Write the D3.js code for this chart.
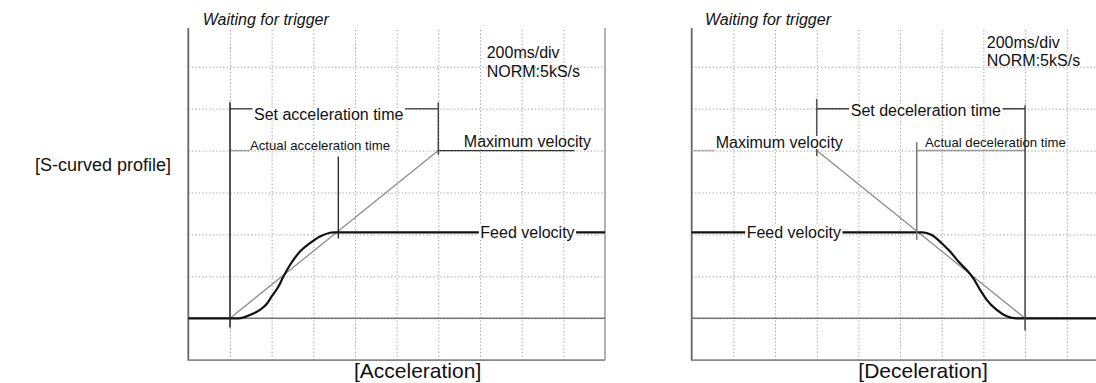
<!DOCTYPE html>
<html><head><meta charset="utf-8">
<script src="https://cdn.jsdelivr.net/npm/d3@7"></script>
<style>
html,body{margin:0;padding:0;background:#fff;}
svg{display:block;font-family:"Liberation Sans",Arial,Helvetica,sans-serif;}
</style></head><body>
<svg id="chart" width="1096" height="383"></svg>
<script>
// Oscilloscope captures of an S-curved velocity profile (acceleration / deceleration).
// Time in ms (200 ms per division), velocity in screen divisions above the zero line.
const timeGrid = [200, 400, 600, 800, 1000, 1200, 1400, 1600, 1800];
const velocityGrid = [0, 1, 2, 3, 4, 5, 6];
const feedVelocity = 2.05;
const maxVelocity = 4;

// acceleration capture: measured trace, linear reference, set and actual times
const accelTrace = [[0,0],[244,0],[296,0.08],[344,0.2],[376,0.34],[400,0.52],[432,0.75],[456,0.99],[488,1.27],[536,1.59],[584,1.79],[632,1.95],[680,2.04],[700,2.05],[2000,2.05]];
const accelRamp = [[200,0],[1200,4]];
const accelSet = [200, 1200];
const accelActual = [200, 720];

// deceleration capture
const decelTrace = [[0,2.05],[1108,2.05],[1150,1.99],[1200,1.79],[1240,1.59],[1288,1.31],[1320,1.15],[1352,0.95],[1384,0.68],[1416,0.44],[1464,0.2],[1512,0.05],[1560,0],[2000,0]];
const decelRamp = [[600,4],[1600,0]];
const decelSet = [600, 1600];
const decelActual = [1080, 1600];

const svg = d3.select("#chart");
svg.append("rect").attr("width",1096).attr("height",383).attr("fill","#fff");

const y = d3.scaleLinear().domain([-1, 7]).range([360.2, 24.8]);

function label(g, text, x, yb, opts = {}) {
  const t = g.append("text")
    .attr("x", x).attr("y", yb)
    .attr("font-size", opts.size || 16)
    .attr("font-style", opts.italic ? "italic" : null)
    .attr("fill", "#111")
    .text(text);
  if (opts.knockout) {
    const b = t.node().getBBox();
    g.insert("rect", () => t.node())
      .attr("x", b.x - 1.5).attr("y", b.y + 2)
      .attr("width", b.width + 3).attr("height", b.height - 4)
      .attr("fill", "#fff");
  }
  return t;
}

function panel(x0, cfg) {
  const x = d3.scaleLinear().domain([0, 2000]).range([x0, x0 + 416.7]);
  const g = svg.append("g");

  // dotted graticule
  g.append("g")
    .attr("transform", `translate(0,${y(-1)})`)
    .call(d3.axisBottom(x).tickValues(timeGrid).tickSize(-(y(-1) - 28)).tickFormat(""))
    .call(a => a.select(".domain").remove())
    .call(a => a.selectAll("line").attr("stroke","#a0a0a0").attr("stroke-width",1).attr("stroke-dasharray","1.3,2.2"));
  g.append("g")
    .attr("transform", `translate(${x(0)},0)`)
    .call(d3.axisLeft(y).tickValues(velocityGrid).tickSize(-Math.min(416.7, 1096 - x0)).tickFormat(""))
    .call(a => a.select(".domain").remove())
    .call(a => a.selectAll("line").attr("stroke","#a0a0a0").attr("stroke-width",1).attr("stroke-dasharray","1.3,2.2"));

  // screen frame (no top edge)
  g.append("line").attr("x1",x(0)).attr("x2",x(0)).attr("y1",28).attr("y2",y(-1)+0.5)
    .attr("stroke","#666").attr("stroke-width",1.8);
  g.append("line").attr("x1",x(0)).attr("x2",x(2000)).attr("y1",y(-1)).attr("y2",y(-1))
    .attr("stroke","#8a8a8a").attr("stroke-width",1.8);
  g.append("line").attr("x1",x(2000)).attr("x2",x(2000)).attr("y1",28).attr("y2",y(-1))
    .attr("stroke","#999").attr("stroke-width",1.5);

  const line = d3.line().x(d => x(d[0])).y(d => y(d[1]));

  // zero line and linear reference ramp
  g.append("line").attr("x1",x(0)).attr("x2",x(2000)).attr("y1",y(0)).attr("y2",y(0))
    .attr("stroke","#777").attr("stroke-width",1.5);
  g.append("path").datum(cfg.ramp).attr("d", line)
    .attr("fill","none").attr("stroke","#8c8c8c").attr("stroke-width",1.3);

  // measured velocity trace
  g.append("path").datum(cfg.trace).attr("d", line.curve(d3.curveMonotoneX))
    .attr("fill","none").attr("stroke","#111").attr("stroke-width",2.2)
    .attr("stroke-linejoin","round");

  cfg.draw(g, x);
  return x;
}

function seg(g, x1, y1, x2, y2, color, w) {
  g.append("line").attr("x1",x1).attr("y1",y1).attr("x2",x2).attr("y2",y2)
    .attr("stroke",color).attr("stroke-width",w);
}

// ---- acceleration ----
panel(188.3, {
  trace: accelTrace, ramp: accelRamp,
  draw(g, x) {
    // set acceleration time bracket
    seg(g, x(accelSet[0]), y(5), x(accelSet[1]), y(5), "#555", 1.5);
    // actual acceleration time lead
    seg(g, x(accelActual[0]), y(maxVelocity), x(accelActual[0]) + 20, y(maxVelocity), "#a0a0a0", 1.5);
    // maximum velocity lead
    seg(g, x(accelSet[1]), y(maxVelocity), x(accelSet[1]) + 136, y(maxVelocity), "#333", 1.3);

    label(g, "Waiting for trigger", x(0) + 14.5, 25, {italic: true});
    label(g, "200ms/div", x(1400) + 6.7, 58);
    label(g, "NORM:5kS/s", x(1400) + 6.7, 76.5);
    label(g, "Set acceleration time", x(accelSet[0]) + 24, 120, {knockout: true});
    label(g, "Actual acceleration time", x(accelActual[0]) + 20, 149.5, {size: 13.2});
    label(g, "Maximum velocity", x(accelSet[1]) + 25.5, y(maxVelocity) - 4);
    label(g, "Feed velocity", x(1200) + 42, y(feedVelocity) + 5.6, {knockout: true});
    label(g, "[Acceleration]", x(0) + 165.7, 378, {size: 21});

    // time markers
    seg(g, x(accelSet[0]), y(5.15), x(accelSet[0]), y(-0.22), "#222", 1.5);
    seg(g, x(accelSet[1]), y(5.15), x(accelSet[1]), y(3.9), "#444", 1.5);
    seg(g, x(accelActual[1]), y(3.86), x(accelActual[1]), y(1.9), "#222", 1.3);
  }
});

// ---- deceleration ----
panel(691.7, {
  trace: decelTrace, ramp: decelRamp,
  draw(g, x) {
    seg(g, x(decelSet[0]), y(5), x(decelSet[1]), y(5), "#444", 1.5);
    seg(g, x(decelActual[0]), y(maxVelocity), x(decelActual[1]), y(maxVelocity), "#9a9a9a", 1.5);
    seg(g, x(0), y(maxVelocity), x(0) + 23, y(maxVelocity), "#b0b0b0", 1.5);

    // time markers (drawn before labels so text sits over them)
    seg(g, x(decelSet[0]), y(5.23), x(decelSet[0]), y(3.87), "#555", 1.5);
    seg(g, x(decelSet[1]), y(5.08), x(decelSet[1]), y(-0.29), "#444", 1.5);
    seg(g, x(decelActual[0]), y(4.2), x(decelActual[0]), y(1.87), "#777", 1.5);

    label(g, "Waiting for trigger", x(0) + 13.3, 25, {italic: true});
    label(g, "200ms/div", x(1400) + 3.4, 48);
    label(g, "NORM:5kS/s", x(1400) + 3.4, 66);
    label(g, "Set deceleration time", x(decelSet[0]) + 34, 116, {knockout: true});
    label(g, "Maximum velocity", x(0) + 24, 148, {knockout: true});
    label(g, "Actual deceleration time", x(decelActual[0]) + 8.3, 147, {size: 13.2});
    label(g, "Feed velocity", x(0) + 55, y(feedVelocity) + 5.6, {knockout: true});
    label(g, "[Deceleration]", x(0) + 166.6, 378, {size: 21});
  }
});

// row caption
svg.append("text").attr("x", 35).attr("y", 171).attr("font-size", 18).attr("fill","#111")
  .text("[S-curved profile]");
</script>
</body></html>
